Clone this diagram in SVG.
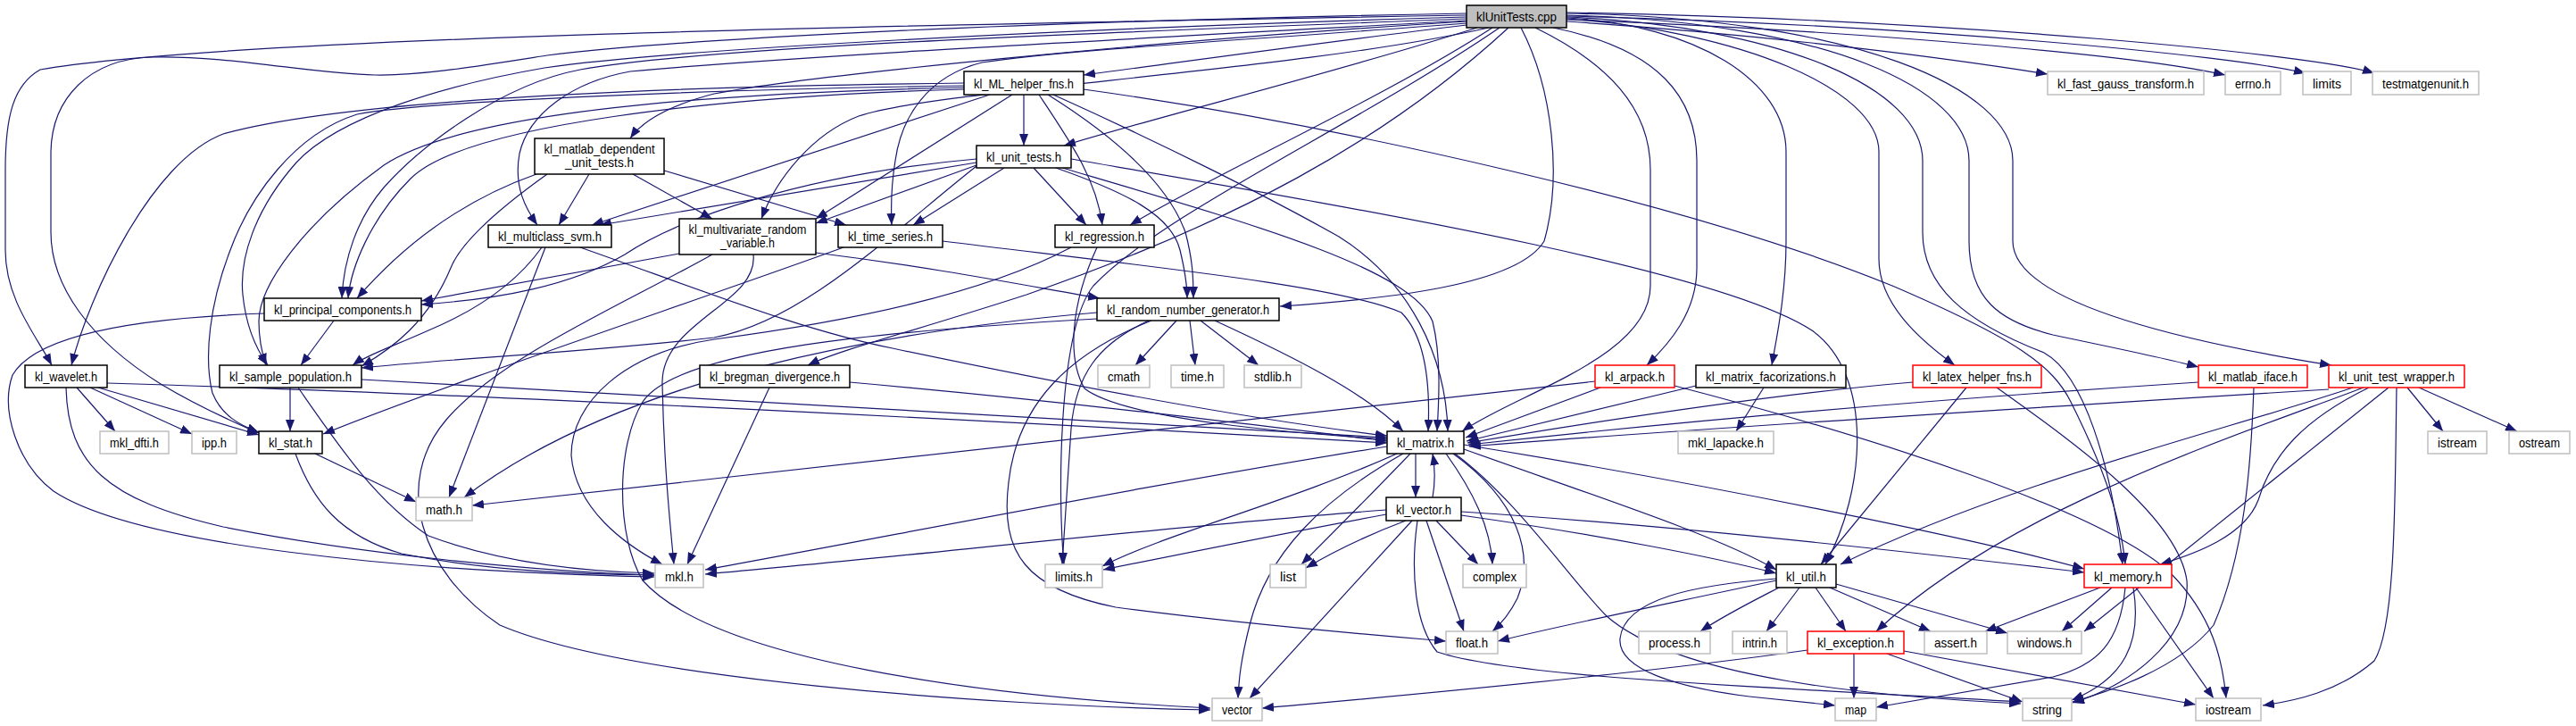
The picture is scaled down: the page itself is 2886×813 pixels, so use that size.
<svg xmlns="http://www.w3.org/2000/svg" width="2886" height="813" viewBox="0 0 2886 813">
<style>
.e{fill:none;stroke:#191970;stroke-width:1.2;marker-end:url(#a)}
.n rect{fill:#fff;stroke-width:1.5}
.doc rect{stroke:#000}
.sys rect{stroke:#bfbfbf}
.red rect{stroke:#ff0000}
.root rect{fill:#bfbfbf;stroke:#000}
text{font-family:"Liberation Sans",Arial,sans-serif;font-size:15px;fill:#000;text-anchor:middle}
</style>
<defs>
<marker id="a" markerWidth="13" markerHeight="10" refX="13" refY="5" orient="auto" markerUnits="userSpaceOnUse"><path d="M0,0 L13,5 L0,10 z" fill="#191970"/></marker>
</defs>
<rect width="2886" height="813" fill="#fff"/>
<g id="edges">
<path class="e" d="M1643,28 C1500,45 1320,70 1214,84"/>
<path class="e" d="M1655,31 C1500,80 1300,130 1192,163"/>
<path class="e" d="M1672,31 C1550,110 1350,200 1266,252"/>
<path class="e" d="M1643,24 C1300,45 900,85 800,105 C750,118 720,135 706,155"/>
<path class="e" d="M1643,23 C1300,42 900,62 706,80 C640,92 592,128 582,172 C575,210 590,235 602,252"/>
<path class="e" d="M1668,31 C1450,80 1050,100 962,130 C910,150 870,200 853,245"/>
<path class="e" d="M1643,26 C1400,45 1200,55 1100,70 C1040,85 1010,130 1003,180 C998,210 998,230 999,252"/>
<path class="e" d="M1643,21 C1200,38 800,52 650,78 C560,95 470,165 430,210 C400,245 385,290 383,334"/>
<path class="e" d="M1643,19 C1200,32 750,55 610,76 C500,95 380,130 332,182 C285,235 268,290 272,330 C276,370 290,395 300,409"/>
<path class="e" d="M1643,17 C1000,28 250,42 45,78 C15,95 6,130 6,190 L6,280 C6,335 40,375 58,409"/>
<path class="e" d="M1643,15 C1100,25 750,45 613,62 C530,75 470,85 420,84 C350,83 260,62 170,64 C100,66 58,110 57,170 L57,260 C57,320 100,380 180,430 C230,460 268,475 290,485"/>
<path class="e" d="M1720,31 C1800,70 1849,120 1849,190 L1849,320 C1849,400 1700,440 1638,483"/>
<path class="e" d="M1740,31 C1860,55 1901,110 1901,180 L1901,300 C1901,350 1870,385 1845,409"/>
<path class="e" d="M1704,31 C1740,100 1750,200 1730,270 C1700,320 1550,335 1434,343"/>
<path class="e" d="M1690,31 C1550,160 1380,250 1150,330 C1020,372 940,392 905,409"/>
<path class="e" d="M1680,31 C1520,140 1300,240 1225,320 C1185,370 1185,560 1192,632"/>
<path class="e" d="M1755,20 C1900,28 2001,90 2001,170 L2001,270 C2001,330 1990,380 1985,409"/>
<path class="e" d="M1755,21 C1950,35 2105,100 2105,170 L2105,290 C2105,340 2150,380 2190,409"/>
<path class="e" d="M1755,19 C2000,30 2154,100 2154,180 L2154,260 C2154,320 2200,360 2290,395 C2335,420 2365,520 2378,632"/>
<path class="e" d="M1755,17 C2050,25 2206,100 2206,180 L2206,270 C2206,335 2240,360 2300,375 C2380,392 2430,402 2463,411"/>
<path class="e" d="M1755,15 C2080,20 2255,100 2255,180 L2255,270 C2255,330 2400,375 2612,409"/>
<path class="e" d="M1755,24 C2000,40 2200,68 2294,83"/>
<path class="e" d="M1755,22 C2100,35 2400,63 2493,84"/>
<path class="e" d="M1755,18 C2150,28 2500,62 2583,82"/>
<path class="e" d="M1755,14 C2200,22 2600,62 2660,82"/>
<path class="e" d="M1147,106 L1147,163"/>
<path class="e" d="M1109,106 L663,252"/>
<path class="e" d="M1134,106 L914,245"/>
<path class="e" d="M1164,106 C1200,160 1228,200 1235,252"/>
<path class="e" d="M1174,106 C1260,160 1310,210 1328,260 C1336,290 1337,310 1337,334"/>
<path class="e" d="M1180,106 C1300,160 1420,220 1500,265 C1580,315 1620,400 1622,483"/>
<path class="e" d="M1080,100 C800,108 520,140 460,200 C415,245 393,300 390,334"/>
<path class="e" d="M1080,98 C800,104 520,125 430,185 C340,250 290,320 290,360 C290,385 295,400 298,409"/>
<path class="e" d="M1080,93 C800,96 400,108 250,150 C170,180 100,330 80,409"/>
<path class="e" d="M1080,96 C800,100 480,113 400,128 C330,150 280,220 258,280 C235,340 228,400 238,440 C248,465 268,476 290,484"/>
<path class="e" d="M1214,100 C1500,140 1900,230 2120,320 C2260,380 2300,410 2320,450 C2350,510 2375,570 2381,632"/>
<path class="e" d="M1094,182 L672,252"/>
<path class="e" d="M1094,185 L914,250"/>
<path class="e" d="M1125,188 L1023,252"/>
<path class="e" d="M1158,188 L1217,252"/>
<path class="e" d="M1183,188 C1260,215 1312,240 1322,280 C1328,305 1330,320 1330,334"/>
<path class="e" d="M1094,178 C900,195 760,245 700,285 C640,320 560,335 472,341"/>
<path class="e" d="M1094,186 C1000,260 900,360 800,378 C650,395 500,402 405,412"/>
<path class="e" d="M1190,188 C1400,250 1580,300 1605,360 C1615,400 1612,450 1610,483"/>
<path class="e" d="M1200,178 C1500,230 1924,300 2030,370 C2100,420 2090,550 2045,632"/>
<path class="e" d="M601,195 C530,220 460,265 400,334"/>
<path class="e" d="M613,195 C550,240 515,275 505,300 C480,360 440,390 405,410"/>
<path class="e" d="M660,195 L626,252"/>
<path class="e" d="M709,195 L798,245"/>
<path class="e" d="M744,191 L948,252"/>
<path class="e" d="M607,277 C580,315 540,345 480,370 C440,388 410,398 395,409"/>
<path class="e" d="M611,277 L503,557"/>
<path class="e" d="M650,277 C800,330 900,370 1000,390 C1200,432 1400,470 1554,488"/>
<path class="e" d="M761,284 L472,337"/>
<path class="e" d="M914,283 C1050,300 1150,320 1232,334"/>
<path class="e" d="M844,285 C850,340 740,360 742,430 C744,520 750,580 755,632"/>
<path class="e" d="M798,285 C700,340 560,400 500,470 C440,540 470,640 560,700 C700,760 1100,790 1356,795"/>
<path class="e" d="M945,277 C800,330 500,430 362,486"/>
<path class="e" d="M1056,270 C1300,300 1500,320 1570,350 C1600,380 1602,440 1600,483"/>
<path class="e" d="M1229,277 C1200,340 1195,400 1215,435 C1260,470 1450,485 1554,492"/>
<path class="e" d="M1200,277 C1100,330 950,360 800,380 C700,395 640,450 640,510 C645,570 700,610 742,632"/>
<path class="e" d="M374,359 L337,409"/>
<path class="e" d="M296,351 C150,356 40,375 14,420 C0,460 20,520 60,550 C150,610 450,640 733,646"/>
<path class="e" d="M1318,359 L1272,409"/>
<path class="e" d="M1333,359 L1339,409"/>
<path class="e" d="M1345,359 L1410,409"/>
<path class="e" d="M1361,359 C1450,400 1530,440 1572,483"/>
<path class="e" d="M1287,359 C1230,385 1205,420 1200,480 C1195,550 1192,600 1190,632"/>
<path class="e" d="M1290,359 C1200,395 1140,450 1130,540 C1120,620 1150,660 1250,680 C1400,700 1550,712 1620,718"/>
<path class="e" d="M1229,350 C1000,370 700,420 520,557"/>
<path class="e" d="M1229,357 C1000,370 760,390 720,450 C690,500 690,600 720,650 C800,740 1100,780 1356,793"/>
<path class="e" d="M86,434 L129,483"/>
<path class="e" d="M101,434 L215,486"/>
<path class="e" d="M110,434 L290,487"/>
<path class="e" d="M120,429 C500,440 1000,465 1554,496"/>
<path class="e" d="M74,434 C76,520 120,560 250,590 C400,620 600,640 733,644"/>
<path class="e" d="M325,434 L325,483"/>
<path class="e" d="M334,434 C380,500 420,560 480,600 C560,630 650,640 733,642"/>
<path class="e" d="M405,425 C700,440 1100,465 1554,490"/>
<path class="e" d="M353,508 L466,562"/>
<path class="e" d="M331,508 C350,560 380,600 450,620 C550,640 650,643 733,644"/>
<path class="e" d="M952,428 C1200,450 1400,475 1554,494"/>
<path class="e" d="M862,434 L770,632"/>
<path class="e" d="M1793,434 L1642,490"/>
<path class="e" d="M1787,427 L529,566"/>
<path class="e" d="M1876,432 C2100,490 2350,570 2430,640 C2480,690 2490,740 2494,782"/>
<path class="e" d="M1900,432 L1643,494"/>
<path class="e" d="M1976,434 L1945,483"/>
<path class="e" d="M2143,428 C2000,440 1800,470 1644,496"/>
<path class="e" d="M2203,434 L2040,632"/>
<path class="e" d="M2237,434 C2330,500 2440,580 2450,650 C2455,720 2380,770 2322,787"/>
<path class="e" d="M2463,428 C2200,445 1900,470 1645,498"/>
<path class="e" d="M2525,434 C2522,520 2515,620 2480,700 C2440,750 2360,775 2322,786"/>
<path class="e" d="M2609,436 C2300,455 1900,480 1646,500"/>
<path class="e" d="M2636,434 C2500,480 2250,540 2062,632"/>
<path class="e" d="M2648,434 C2500,490 2250,570 2102,707"/>
<path class="e" d="M2654,434 C2580,470 2545,510 2530,560 C2515,600 2460,620 2420,632"/>
<path class="e" d="M2676,434 L2335,707"/>
<path class="e" d="M2685,434 C2683,550 2685,700 2660,740 C2620,775 2570,785 2535,790"/>
<path class="e" d="M2697,434 L2737,483"/>
<path class="e" d="M2710,434 L2820,483"/>
<path class="e" d="M1586,508 L1586,557"/>
<path class="e" d="M1554,500 C1300,540 1000,600 790,638"/>
<path class="e" d="M1565,508 C1450,560 1300,600 1235,634"/>
<path class="e" d="M1580,508 C1530,560 1480,610 1458,632"/>
<path class="e" d="M1620,508 C1650,550 1670,590 1672,632"/>
<path class="e" d="M1628,508 C1700,560 1720,620 1700,670 C1690,690 1680,700 1672,707"/>
<path class="e" d="M1572,508 C1480,560 1420,620 1400,700 C1390,740 1388,760 1387,782"/>
<path class="e" d="M1640,503 C1800,560 1924,600 1990,638"/>
<path class="e" d="M1640,498 C1900,540 2200,600 2335,637"/>
<path class="e" d="M1630,508 C1700,560 1760,650 1800,690 C1880,760 2100,780 2264,788"/>
<path class="e" d="M1605,557 C1608,540 1608,525 1605,508"/>
<path class="e" d="M1553,571 C1300,590 1000,625 790,643"/>
<path class="e" d="M1553,576 C1450,595 1300,625 1236,638"/>
<path class="e" d="M1575,583 C1530,600 1490,620 1463,636"/>
<path class="e" d="M1609,583 L1656,632"/>
<path class="e" d="M1598,583 L1640,707"/>
<path class="e" d="M1582,583 L1400,782"/>
<path class="e" d="M1637,577 C1800,600 1924,625 1990,642"/>
<path class="e" d="M1637,573 C1900,590 2200,625 2335,641"/>
<path class="e" d="M1588,583 C1580,640 1585,700 1610,730 C1700,760 2000,770 2264,786"/>
<path class="e" d="M1990,650 C1850,680 1750,700 1678,718"/>
<path class="e" d="M1993,658 C1960,675 1930,690 1905,707"/>
<path class="e" d="M2016,658 L1979,707"/>
<path class="e" d="M2034,658 L2068,707"/>
<path class="e" d="M2050,658 L2163,707"/>
<path class="e" d="M2057,654 L2249,709"/>
<path class="e" d="M1990,648 C1900,655 1820,670 1815,715 C1812,750 1880,770 1960,780 C2000,784 2030,787 2056,790"/>
<path class="e" d="M2353,658 L2224,707"/>
<path class="e" d="M2366,658 L2310,707"/>
<path class="e" d="M2381,658 C2375,720 2350,745 2300,758 C2200,775 2140,785 2102,792"/>
<path class="e" d="M2390,658 C2400,720 2380,760 2321,784"/>
<path class="e" d="M2393,658 L2480,782"/>
<path class="e" d="M2077,732 L2077,782"/>
<path class="e" d="M2114,732 L2266,786"/>
<path class="e" d="M2133,729 L2460,789"/>
<path class="e" d="M2025,728 C1800,760 1500,785 1414,793"/>
</g>
<g id="n-klUnitTests" class="n root"><rect x="1643" y="6" width="112" height="25"/><text x="1699" y="24" textLength="90" lengthAdjust="spacingAndGlyphs">klUnitTests.cpp</text></g>
<g id="n-kl_ML_helper_fns" class="n doc"><rect x="1080" y="80" width="134" height="26"/><text x="1147" y="98.5" textLength="112" lengthAdjust="spacingAndGlyphs">kl_ML_helper_fns.h</text></g>
<g id="n-kl_fast_gauss_transform" class="n sys"><rect x="2294" y="80" width="175" height="26"/><text x="2381.5" y="98.5" textLength="153" lengthAdjust="spacingAndGlyphs">kl_fast_gauss_transform.h</text></g>
<g id="n-errno" class="n sys"><rect x="2493" y="80" width="62" height="26"/><text x="2524" y="98.5" textLength="40" lengthAdjust="spacingAndGlyphs">errno.h</text></g>
<g id="n-limits" class="n sys"><rect x="2580" y="80" width="54" height="26"/><text x="2607" y="98.5" textLength="32" lengthAdjust="spacingAndGlyphs">limits</text></g>
<g id="n-testmatgenunit" class="n sys"><rect x="2658" y="80" width="119" height="26"/><text x="2717.5" y="98.5" textLength="97" lengthAdjust="spacingAndGlyphs">testmatgenunit.h</text></g>
<g id="n-kl_matlab_dependent_unit_tests" class="n doc"><rect x="599" y="155" width="145" height="40"/><text x="671.5" y="171.5" textLength="124" lengthAdjust="spacingAndGlyphs">kl_matlab_dependent</text><text x="671.5" y="187" textLength="77" lengthAdjust="spacingAndGlyphs">_unit_tests.h</text></g>
<g id="n-kl_unit_tests" class="n doc"><rect x="1094" y="163" width="106" height="25"/><text x="1147" y="181" textLength="84" lengthAdjust="spacingAndGlyphs">kl_unit_tests.h</text></g>
<g id="n-kl_multiclass_svm" class="n doc"><rect x="547" y="252" width="138" height="25"/><text x="616" y="270" textLength="116" lengthAdjust="spacingAndGlyphs">kl_multiclass_svm.h</text></g>
<g id="n-kl_multivariate_random_variable" class="n doc"><rect x="761" y="245" width="153" height="40"/><text x="837.5" y="261.5" textLength="132" lengthAdjust="spacingAndGlyphs">kl_multivariate_random</text><text x="837.5" y="277" textLength="61" lengthAdjust="spacingAndGlyphs">_variable.h</text></g>
<g id="n-kl_time_series" class="n doc"><rect x="939" y="252" width="117" height="25"/><text x="997.5" y="270" textLength="95" lengthAdjust="spacingAndGlyphs">kl_time_series.h</text></g>
<g id="n-kl_regression" class="n doc"><rect x="1182" y="252" width="111" height="25"/><text x="1237.5" y="270" textLength="89" lengthAdjust="spacingAndGlyphs">kl_regression.h</text></g>
<g id="n-kl_principal_components" class="n doc"><rect x="296" y="334" width="176" height="25"/><text x="384" y="352" textLength="154" lengthAdjust="spacingAndGlyphs">kl_principal_components.h</text></g>
<g id="n-kl_random_number_generator" class="n doc"><rect x="1229" y="334" width="204" height="25"/><text x="1331" y="352" textLength="182" lengthAdjust="spacingAndGlyphs">kl_random_number_generator.h</text></g>
<g id="n-kl_wavelet" class="n doc"><rect x="28" y="409" width="92" height="25"/><text x="74" y="427" textLength="70" lengthAdjust="spacingAndGlyphs">kl_wavelet.h</text></g>
<g id="n-kl_sample_population" class="n doc"><rect x="246" y="409" width="159" height="25"/><text x="325.5" y="427" textLength="137" lengthAdjust="spacingAndGlyphs">kl_sample_population.h</text></g>
<g id="n-kl_bregman_divergence" class="n doc"><rect x="784" y="409" width="168" height="25"/><text x="868" y="427" textLength="146" lengthAdjust="spacingAndGlyphs">kl_bregman_divergence.h</text></g>
<g id="n-cmath" class="n sys"><rect x="1230" y="409" width="58" height="25"/><text x="1259" y="427" textLength="36" lengthAdjust="spacingAndGlyphs">cmath</text></g>
<g id="n-time" class="n sys"><rect x="1312" y="409" width="59" height="25"/><text x="1341.5" y="427" textLength="37" lengthAdjust="spacingAndGlyphs">time.h</text></g>
<g id="n-stdlib" class="n sys"><rect x="1394" y="409" width="64" height="25"/><text x="1426" y="427" textLength="42" lengthAdjust="spacingAndGlyphs">stdlib.h</text></g>
<g id="n-kl_arpack" class="n red"><rect x="1787" y="409" width="89" height="25"/><text x="1831.5" y="427" textLength="67" lengthAdjust="spacingAndGlyphs">kl_arpack.h</text></g>
<g id="n-kl_matrix_facorizations" class="n doc"><rect x="1900" y="409" width="168" height="25"/><text x="1984" y="427" textLength="146" lengthAdjust="spacingAndGlyphs">kl_matrix_facorizations.h</text></g>
<g id="n-kl_latex_helper_fns" class="n red"><rect x="2143" y="409" width="144" height="25"/><text x="2215" y="427" textLength="122" lengthAdjust="spacingAndGlyphs">kl_latex_helper_fns.h</text></g>
<g id="n-kl_matlab_iface" class="n red"><rect x="2463" y="409" width="122" height="25"/><text x="2524" y="427" textLength="100" lengthAdjust="spacingAndGlyphs">kl_matlab_iface.h</text></g>
<g id="n-kl_unit_test_wrapper" class="n red"><rect x="2609" y="409" width="152" height="25"/><text x="2685" y="427" textLength="130" lengthAdjust="spacingAndGlyphs">kl_unit_test_wrapper.h</text></g>
<g id="n-mkl_dfti" class="n sys"><rect x="112" y="483" width="77" height="25"/><text x="150.5" y="501" textLength="55" lengthAdjust="spacingAndGlyphs">mkl_dfti.h</text></g>
<g id="n-ipp" class="n sys"><rect x="215" y="483" width="50" height="25"/><text x="240" y="501" textLength="28" lengthAdjust="spacingAndGlyphs">ipp.h</text></g>
<g id="n-kl_stat" class="n doc"><rect x="290" y="483" width="71" height="25"/><text x="325.5" y="501" textLength="49" lengthAdjust="spacingAndGlyphs">kl_stat.h</text></g>
<g id="n-kl_matrix" class="n doc"><rect x="1554" y="483" width="86" height="25"/><text x="1597" y="501" textLength="64" lengthAdjust="spacingAndGlyphs">kl_matrix.h</text></g>
<g id="n-mkl_lapacke" class="n sys"><rect x="1880" y="483" width="107" height="25"/><text x="1933.5" y="501" textLength="85" lengthAdjust="spacingAndGlyphs">mkl_lapacke.h</text></g>
<g id="n-istream" class="n sys"><rect x="2720" y="483" width="66" height="25"/><text x="2753" y="501" textLength="44" lengthAdjust="spacingAndGlyphs">istream</text></g>
<g id="n-ostream" class="n sys"><rect x="2811" y="483" width="68" height="25"/><text x="2845" y="501" textLength="46" lengthAdjust="spacingAndGlyphs">ostream</text></g>
<g id="n-math" class="n sys"><rect x="466" y="557" width="63" height="26"/><text x="497.5" y="575.5" textLength="41" lengthAdjust="spacingAndGlyphs">math.h</text></g>
<g id="n-kl_vector" class="n doc"><rect x="1553" y="557" width="84" height="26"/><text x="1595" y="575.5" textLength="62" lengthAdjust="spacingAndGlyphs">kl_vector.h</text></g>
<g id="n-mkl" class="n sys"><rect x="734" y="632" width="54" height="26"/><text x="761" y="650.5" textLength="32" lengthAdjust="spacingAndGlyphs">mkl.h</text></g>
<g id="n-limits_h" class="n sys"><rect x="1171" y="632" width="64" height="26"/><text x="1203" y="650.5" textLength="42" lengthAdjust="spacingAndGlyphs">limits.h</text></g>
<g id="n-list" class="n sys"><rect x="1423" y="632" width="40" height="26"/><text x="1443" y="650.5" textLength="18" lengthAdjust="spacingAndGlyphs">list</text></g>
<g id="n-complex" class="n sys"><rect x="1639" y="632" width="71" height="26"/><text x="1674.5" y="650.5" textLength="49" lengthAdjust="spacingAndGlyphs">complex</text></g>
<g id="n-kl_util" class="n doc"><rect x="1990" y="632" width="67" height="26"/><text x="2023.5" y="650.5" textLength="45" lengthAdjust="spacingAndGlyphs">kl_util.h</text></g>
<g id="n-kl_memory" class="n red"><rect x="2335" y="632" width="98" height="26"/><text x="2384" y="650.5" textLength="76" lengthAdjust="spacingAndGlyphs">kl_memory.h</text></g>
<g id="n-float" class="n sys"><rect x="1620" y="707" width="58" height="25"/><text x="1649" y="725" textLength="36" lengthAdjust="spacingAndGlyphs">float.h</text></g>
<g id="n-process" class="n sys"><rect x="1836" y="707" width="80" height="25"/><text x="1876" y="725" textLength="58" lengthAdjust="spacingAndGlyphs">process.h</text></g>
<g id="n-intrin" class="n sys"><rect x="1941" y="707" width="61" height="25"/><text x="1971.5" y="725" textLength="39" lengthAdjust="spacingAndGlyphs">intrin.h</text></g>
<g id="n-kl_exception" class="n red"><rect x="2025" y="707" width="108" height="25"/><text x="2079" y="725" textLength="86" lengthAdjust="spacingAndGlyphs">kl_exception.h</text></g>
<g id="n-assert" class="n sys"><rect x="2156" y="707" width="70" height="25"/><text x="2191" y="725" textLength="48" lengthAdjust="spacingAndGlyphs">assert.h</text></g>
<g id="n-windows" class="n sys"><rect x="2249" y="707" width="83" height="25"/><text x="2290.5" y="725" textLength="61" lengthAdjust="spacingAndGlyphs">windows.h</text></g>
<g id="n-vector" class="n sys"><rect x="1358" y="782" width="56" height="25"/><text x="1386" y="800" textLength="34" lengthAdjust="spacingAndGlyphs">vector</text></g>
<g id="n-map" class="n sys"><rect x="2056" y="782" width="46" height="25"/><text x="2079" y="800" textLength="24" lengthAdjust="spacingAndGlyphs">map</text></g>
<g id="n-string" class="n sys"><rect x="2266" y="782" width="55" height="25"/><text x="2293.5" y="800" textLength="33" lengthAdjust="spacingAndGlyphs">string</text></g>
<g id="n-iostream" class="n sys"><rect x="2460" y="782" width="73" height="25"/><text x="2496.5" y="800" textLength="51" lengthAdjust="spacingAndGlyphs">iostream</text></g>
</svg>
